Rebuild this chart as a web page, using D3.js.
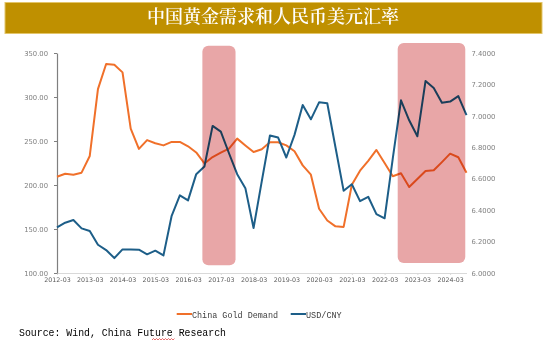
<!DOCTYPE html>
<html>
<head>
<meta charset="utf-8">
<script src="https://cdn.jsdelivr.net/npm/d3@7"></script>
<style>
  html, body { margin: 0; padding: 0; background: #fff; }
  svg { display: block; }
</style>
</head>
<body>
<svg id="chart" width="550" height="343"></svg>
<script>
// ---------------- data ----------------
const title = "中国黄金需求和人民币美元汇率";
const periods = d3.range(51).map(i => {
  const m = 3 + 3 * i;
  const y = 2012 + Math.floor((m - 1) / 12);
  const mm = ((m - 1) % 12) + 1;
  return y + "-" + String(mm).padStart(2, "0");
});
const goldDemand = [209.4, 212.8, 211.7, 214, 233, 309, 337.5, 336.7, 328, 264,
  241, 251, 247.5, 245, 249, 249, 244, 237, 224.5, 231.8,
  236.7, 241.3, 252.7, 245, 237.5, 240.6, 248.6, 248.6, 245, 238.3,
  222.3, 211.7, 173, 159.7, 153, 152.4, 200.3, 216.3, 227.5, 239.8,
  225, 210, 213.3, 197.7, 206.8, 216, 216.7, 226, 235.6, 231.5, 214];
const usdCny = [6.290, 6.320, 6.337, 6.284, 6.267, 6.180, 6.146, 6.095, 6.150, 6.150,
  6.148, 6.119, 6.142, 6.112, 6.364, 6.494, 6.462, 6.629, 6.678, 6.936,
  6.900, 6.762, 6.629, 6.540, 6.286, 6.583, 6.875, 6.862, 6.735, 6.879,
  7.069, 6.978, 7.086, 7.080, 6.800, 6.523, 6.565, 6.457, 6.485, 6.375,
  6.348, 6.730, 7.099, 6.972, 6.870, 7.222, 7.177, 7.084, 7.091, 7.126, 7.004];
const xTickLabels = ["2012-03","2013-03","2014-03","2015-03","2016-03","2017-03","2018-03",
  "2019-03","2020-03","2021-03","2022-03","2023-03","2024-03"];
const leftTicks = [100, 150, 200, 250, 300, 350];
const rightTicks = [6.0, 6.2, 6.4, 6.6, 6.8, 7.0, 7.2, 7.4];
const seriesNames = ["China Gold Demand", "USD/CNY"];
// highlighted periods (start/end period index, top/bottom in left-axis units)
const highlightStart = [17.75, 41.6];
const highlightEnd = [21.8, 49.85];
const highlightTop = [358.3, 361.4];
const highlightBottom = [108.8, 111.4];
const sourceText = "Source: Wind,  China Future Research";

// ---------------- chart ----------------
const svg = d3.select("#chart");
const plotL = 57, plotR = 466.5, plotT = 53, plotB = 273;
const colOrange = "#F0702A", colBlue = "#1D5E88";

const x = d3.scaleLinear().domain([0, periods.length - 1]).range([plotL, plotR]);
const yL = d3.scaleLinear().domain([100, 350]).range([plotB, plotT]);
const yR = d3.scaleLinear().domain([6.0, 7.4]).range([plotB, plotT]);

// title bar
svg.append("rect").attr("x", 5).attr("y", 2.5).attr("width", 537).attr("height", 31)
  .attr("fill", "#BF9000").attr("stroke", "#E3C56A").attr("stroke-width", 1);
svg.append("text").attr("x", 273).attr("y", 18.5)
  .attr("text-anchor", "middle").attr("dominant-baseline", "middle")
  .attr("font-family", "'Noto Serif CJK SC','Noto Sans CJK SC',sans-serif")
  .attr("font-size", 18).attr("font-weight", 600).attr("fill", "#fff")
  .text(title);

// axes
const axisFont = "'DejaVu Sans', sans-serif";
const gx = svg.append("g").attr("transform", `translate(0,${plotB})`)
  .call(d3.axisBottom(x)
    .tickValues(xTickLabels.map((_, i) => i * 4))
    .tickFormat((d, i) => xTickLabels[i])
    .tickSize(2).tickSizeOuter(0).tickPadding(3));
gx.select(".domain").attr("stroke", "#D9D9D9");
gx.selectAll(".tick line").attr("stroke", "#D9D9D9");
gx.selectAll("text").attr("font-family", axisFont).attr("font-size", 6.3).attr("fill", "#595959");

const gl = svg.append("g").attr("transform", `translate(${plotL},0)`)
  .call(d3.axisLeft(yL).tickValues(leftTicks).tickFormat(d3.format(".2f"))
    .tickSize(3).tickSizeOuter(0).tickPadding(6));
gl.select(".domain").attr("stroke", "#7F7F7F").attr("stroke-width", 1.2);
gl.selectAll(".tick line").attr("stroke", "#7F7F7F");
gl.selectAll("text").attr("font-family", axisFont).attr("font-size", 6.8).attr("fill", "#7F7F7F");

const gr = svg.append("g").attr("transform", `translate(${plotR},0)`)
  .call(d3.axisRight(yR).tickValues(rightTicks).tickFormat(d3.format(".4f"))
    .tickSize(0).tickPadding(5));
gr.select(".domain").remove();
gr.selectAll("text").attr("font-family", axisFont).attr("font-size", 6.8).attr("fill", "#7F7F7F");

// lines
const lineL = d3.line().x((d, i) => x(i)).y(d => yL(d));
const lineR = d3.line().x((d, i) => x(i)).y(d => yR(d));
svg.append("path").datum(goldDemand).attr("d", lineL)
  .attr("fill", "none").attr("stroke", colOrange).attr("stroke-width", 2)
  .attr("stroke-linejoin", "round");
svg.append("path").datum(usdCny).attr("d", lineR)
  .attr("fill", "none").attr("stroke", colBlue).attr("stroke-width", 2)
  .attr("stroke-linejoin", "round");

// highlight boxes (multiply over the lines)
svg.append("g").selectAll("rect").data(highlightStart).join("rect")
  .attr("x", (d) => x(d))
  .attr("width", (d, i) => x(highlightEnd[i]) - x(d))
  .attr("y", (d, i) => yL(highlightTop[i]))
  .attr("height", (d, i) => yL(highlightBottom[i]) - yL(highlightTop[i]))
  .attr("rx", 6).attr("ry", 6)
  .attr("fill", "#E8A6A7")
  .style("mix-blend-mode", "multiply");

// legend
const legFont = "'Liberation Mono','DejaVu Sans Mono',monospace";
const leg = [
  { x1: 176.7, x2: 192, w: 86, color: colOrange },
  { x1: 290.7, x2: 306, w: 35.7, color: colBlue }
];
leg.forEach((l, i) => {
  svg.append("line").attr("x1", l.x1).attr("x2", l.x2).attr("y1", 314).attr("y2", 314)
    .attr("stroke", l.color).attr("stroke-width", 2);
  svg.append("text").attr("x", l.x2).attr("y", 317.5)
    .attr("font-family", legFont).attr("font-size", 9.5).attr("fill", "#404040")
    .attr("textLength", l.w).attr("lengthAdjust", "spacingAndGlyphs")
    .text(seriesNames[i]);
});

// source
svg.append("text").attr("x", 19).attr("y", 335.5)
  .attr("font-family", legFont).attr("font-size", 10.5).attr("fill", "#000")
  .attr("textLength", 207).attr("lengthAdjust", "spacingAndGlyphs")
  .text(sourceText);
// spell-check squiggle under "ture"
const sq = d3.range(0, 24, 1.5).map((t, k) => [152 + t, k % 2 ? 338.5 : 340]);
svg.append("path").attr("d", d3.line()(sq)).attr("fill", "none")
  .attr("stroke", "#E03030").attr("stroke-width", 0.7);
</script>
</body>
</html>
